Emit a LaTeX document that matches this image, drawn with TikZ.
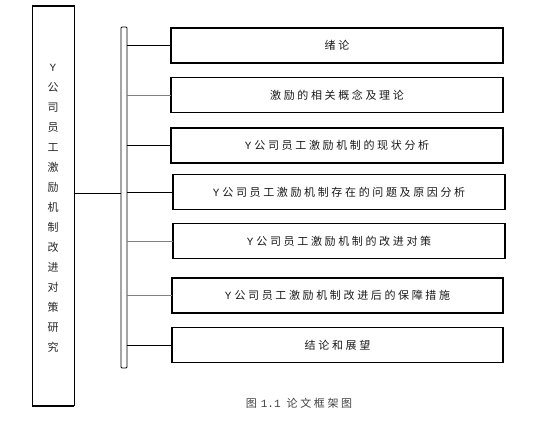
\documentclass[tikz,border=0pt]{standalone}
\usepackage{fontspec}
\newfontfamily\cjk{Noto Sans CJK SC}[LetterSpace=24]
\newfontfamily\cjkcol{Noto Sans CJK SC}
\newfontfamily\lat{Liberation Mono}
\begin{document}
\begin{tikzpicture}[x=1pt,y=-1pt,
  every node/.style={inner sep=0pt,outer sep=0pt},
  chapbox/.style={draw=black,line width=1.1pt,minimum width=332pt,minimum height=35pt,font=\cjk\fontsize{11}{12}\selectfont,text=black!90},
  blk/.style={line width=1pt,draw=black},
  gry/.style={line width=0.8pt,draw=black!50}]
\useasboundingbox (0,0) rectangle (543,423);
% left main box
\node[draw=black,line width=1pt,minimum width=42pt,minimum height=400pt] (main) at (53,205.5) {};
\node[font=\cjkcol\fontsize{11}{20}\selectfont,text=black!85,align=center] (maintxt) at (53,208)
  {{\lat Y}\\公\\司\\员\\工\\激\\励\\机\\制\\改\\进\\对\\策\\研\\究};
\draw[line width=2pt] (main.north west) -- (main.north east);
\draw[line width=2pt] (main.south west) -- (main.south east);
% vertical bar
\node[draw=black,line width=0.8pt,rounded corners=1pt,minimum width=6pt,minimum height=341pt] (bar) at (124,197.5) {};
% chapter boxes
\node[chapbox] (b1) at (337,45.5) {绪论};
\node[chapbox] (b2) at (337,95) {激励的相关概念及理论};
\node[chapbox] (b3) at (337,145.5) {{\lat Y}\kern3pt 公司员工激励机制的现状分析};
\node[chapbox] (b4) at (339,192) {{\lat Y}\kern3pt 公司员工激励机制存在的问题及原因分析};
\node[chapbox] (b5) at (339,241) {{\lat Y}\kern3pt 公司员工激励机制的改进对策};
\node[chapbox,minimum width=331pt] (b6) at (337.5,295.5) {{\lat Y}\kern3pt 公司员工激励机制改进后的保障措施};
\node[chapbox,minimum width=331pt] (b7) at (337.5,345) {结论和展望};
% connectors
\coordinate (mj) at ([yshift=12.5pt]main.east);
\draw[blk] (mj) -- (bar.west |- mj);
\draw[blk] (bar.east |- b1.west) -- (b1.west);
\draw[gry] (bar.east |- b2.west) -- (b2.west);
\draw[blk] (bar.east |- b3.west) -- (b3.west);
\draw[blk] (bar.east |- b4.west) -- (b4.west);
\draw[gry] (bar.east |- b5.west) -- (b5.west);
\draw[gry] (bar.east |- b6.west) -- (b6.west);
\draw[blk] (bar.east |- b7.west) -- (b7.west);
% caption
\node[font=\cjk\fontsize{11}{12}\selectfont,text=black!75] (cap) at (299,403) {图\kern4pt{\lat 1.1}\kern6pt 论文框架图};
\end{tikzpicture}
\end{document}
